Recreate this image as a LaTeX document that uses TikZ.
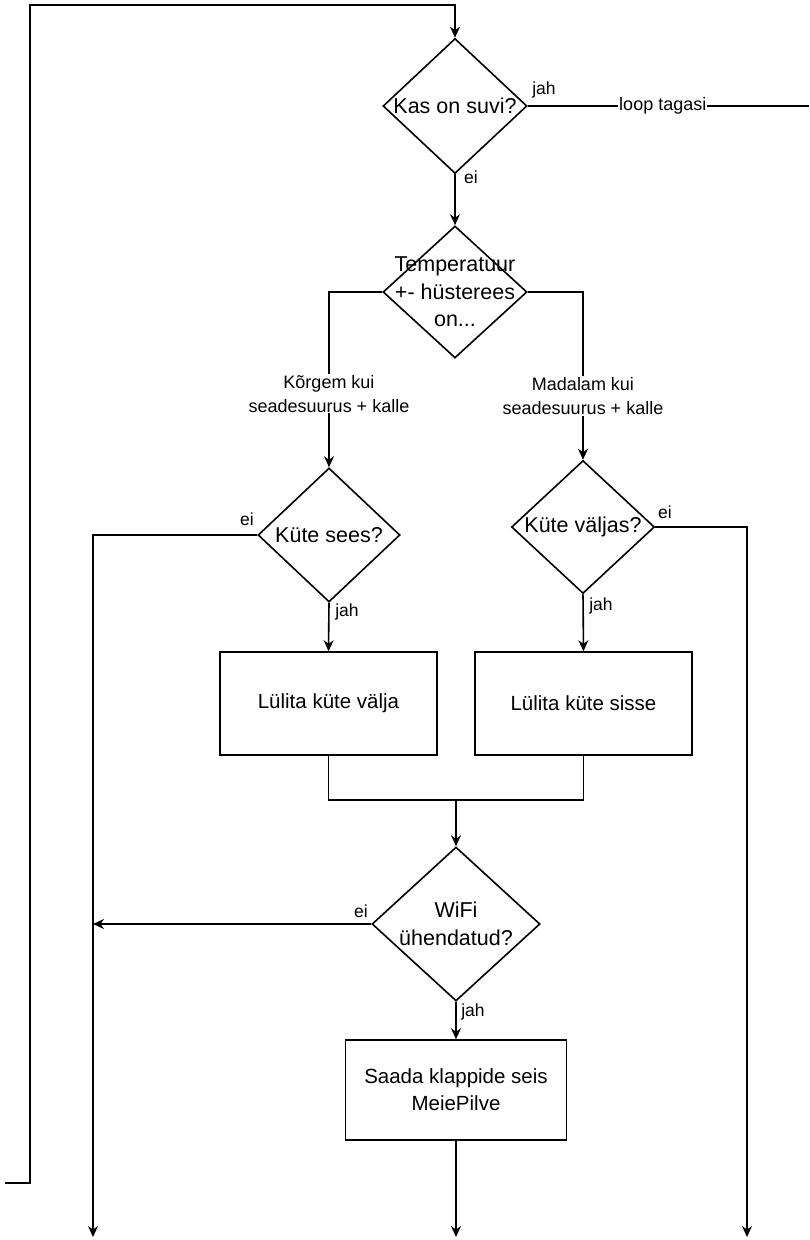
\documentclass[tikz,border=0pt]{standalone}
\usepackage{fontspec}
\setmainfont{Liberation Sans}
\usetikzlibrary{arrows.meta,shapes.geometric}
\begin{document}
\begin{tikzpicture}[x=1pt,y=-1pt,
  line width=1.6pt,
  every node/.style={font=\fontsize{20.5}{27}\selectfont},
  decision/.style={draw, shape=diamond, inner sep=0pt},
  decisiontext/.style={font=\fontsize{21.5}{27.5}\selectfont, align=center},
  action/.style={draw, rectangle, align=center, inner sep=0pt},
  flow/.style={-{Stealth[length=11pt,width=10pt]}},
  tag/.style={font=\fontsize{17.5}{20}\selectfont, inner sep=0pt},
  edgetext/.style={font=\fontsize{18}{24}\selectfont, fill=white, align=center, inner sep=1pt}]
\useasboundingbox (0,0) rectangle (809,1240);

% decisions
\node[decision, minimum width=144pt, minimum height=135pt] (suvi) at (455,106) {};
\node[decisiontext] (suviT) at (suvi.center) {Kas on suvi?};
\node[decision, minimum width=144pt, minimum height=132pt] (temp) at (455,292) {};
\node[decisiontext] (tempT) at (temp.center) {Temperatuur\\+- hüsterees\\on...};
\node[decision, minimum width=142pt, minimum height=134pt] (sees) at (329,535) {};
\node[decisiontext] (seesT) at (sees.center) {Küte sees?};
\node[decision, minimum width=143pt, minimum height=133pt] (valjas) at (583,527) {};
\node[decisiontext] (valjasT) at (valjas.center) {Küte väljas?};
\node[decision, minimum width=168pt, minimum height=154pt] (wifi) at (456,924) {};
\node[decisiontext] (wifiT) at (wifi.center) {WiFi\\ühendatud?};

% actions
\node[action, minimum width=217pt, minimum height=103pt] (valja) at (328.5,703.5) {Lülita küte välja};
\node[action, minimum width=217pt, minimum height=103pt] (sisse) at (583.5,703.5) {Lülita küte sisse};
\node[action, minimum width=221pt, minimum height=100pt] (pilv) at (456,1090) {Saada klappide seis\\MeiePilve};

% free ends
\coordinate (back) at (5,1183);
\coordinate (loopEnd) at (809,106);
\coordinate (endL) at (93,1237);
\coordinate (endM) at (456,1237);
\coordinate (endR) at (747,1237);
\coordinate (join) at (456,800);
\coordinate (wifiEnd) at (93,924);

% connectors
\draw[flow] (back) -- (30,1183) -- (30,5) -- (455,5) -- (suvi.north);
\draw (suvi.east) -- node[edgetext, pos=0.48] (loopT) {loop tagasi} (loopEnd);
\draw[flow] (suvi.south) -- (temp.north);
\draw[flow] (temp.west) -| node[edgetext, pos=0.79] (korgem) {Kõrgem kui\\seadesuurus + kalle} (sees.north);
\draw[flow] (temp.east) -| node[edgetext, pos=0.81] (madalam) {Madalam kui\\seadesuurus + kalle} (valjas.north);
\draw[flow] (sees.west) -| (endL);
\draw[flow] (valjas.east) -| (endR);
\draw[flow] (sees.south) -- (valja.north);
\draw[flow] (valjas.south) -- (sisse.north);
\draw (valja.south) |- (join) -| (sisse.south);
\draw[flow] (join) -- (wifi.north);
\draw[flow] (wifi.west) -- (wifiEnd);
\draw[flow] (wifi.south) -- (pilv.north);
\draw[flow] (pilv.south) -- (endM);

% branch tags
\node[tag] (t1) at (544,90) {jah};
\node[tag] (t2) at (471,177) {ei};
\node[tag] (t3) at (247,519) {ei};
\node[tag] (t4) at (347,612) {jah};
\node[tag] (t5) at (665,512) {ei};
\node[tag] (t6) at (601,606) {jah};
\node[tag] (t7) at (361,911) {ei};
\node[tag] (t8) at (473,1012) {jah};
\end{tikzpicture}
\end{document}
